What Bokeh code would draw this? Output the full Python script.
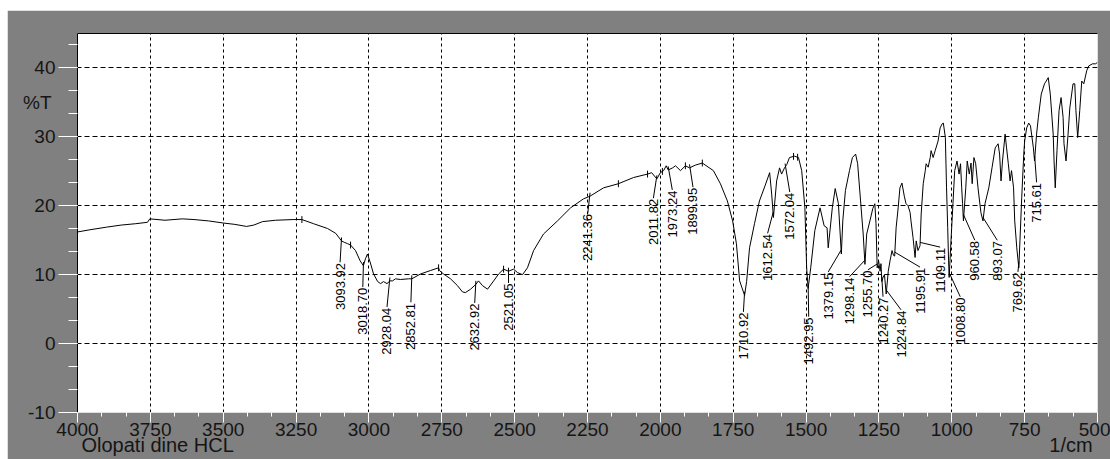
import numpy as np
from bokeh.plotting import figure
from bokeh.models import Range1d, FixedTicker, LinearAxis, ColumnDataSource, Spacer
from bokeh.layouts import column, row
from bokeh.embed import file_html
from bokeh.resources import INLINE
from bokeh.core.properties import value

# ---------------- data ----------------
wavenumber = [
    4000, 3960, 3900, 3850, 3800, 3760, 3752, 3700, 3640, 3600, 3550, 3500, 3460, 3420, 3395,
    3365, 3320, 3260, 3230, 3190, 3142, 3114, 3094, 3085, 3073, 3063, 3046, 3030, 3019, 3012,
    3005, 2995, 2984, 2970, 2960, 2950, 2938, 2928, 2919, 2909, 2892, 2864, 2853, 2823, 2789,
    2761, 2758, 2744, 2720, 2696, 2679, 2669, 2651, 2633, 2624, 2610, 2593, 2572, 2555, 2538,
    2521, 2504, 2490, 2473, 2456, 2435, 2411, 2401, 2353, 2308, 2264, 2241, 2195, 2144, 2092,
    2044, 2030, 2012, 2000, 1989, 1980, 1973, 1958, 1948, 1931, 1914, 1900, 1880, 1856, 1818,
    1794, 1770, 1752, 1739, 1728, 1711, 1704, 1694, 1677, 1660, 1640, 1625, 1618, 1612, 1601,
    1591, 1584, 1574, 1566, 1557, 1540, 1526, 1515, 1504, 1498, 1493, 1484, 1470, 1452, 1438,
    1428, 1424, 1410, 1400, 1389, 1379, 1374, 1365, 1351, 1341, 1330, 1323, 1313, 1304, 1298,
    1292, 1281, 1271, 1264, 1260, 1256, 1251, 1246, 1243, 1240, 1236, 1231, 1225, 1218, 1212,
    1205, 1200, 1196, 1191, 1184, 1178, 1171, 1163, 1157, 1150, 1143, 1140, 1133, 1126, 1122,
    1116, 1109, 1105, 1098, 1091, 1088, 1081, 1074, 1071, 1064, 1057, 1047, 1040, 1033, 1029,
    1022, 1018, 1014, 1011, 1009, 1004, 996, 990, 982, 975, 970, 966, 963, 960, 952,
    947, 940, 934, 930, 924, 918, 910, 900, 893, 886, 873, 862, 851, 841, 836,
    831, 826, 817, 812, 806, 800, 795, 788, 784, 777, 770, 766, 760, 753, 750,
    743, 736, 730, 720, 716, 709, 703, 693, 682, 676, 669, 662, 652, 649, 645,
    639, 632, 625, 618, 615, 608, 601, 595, 584, 578, 574, 568, 561, 554, 547,
    537, 530, 517, 507, 500,
]
transmittance = [
    16.2, 16.5, 16.9, 17.2, 17.4, 17.6, 18.1, 17.9, 18.1, 18.0, 17.8, 17.5, 17.3, 17.0, 17.2,
    17.7, 17.9, 18.0, 18.0, 17.4, 16.7, 16.0, 14.9, 14.7, 14.5, 14.3, 13.5, 12.0, 11.3, 12.3,
    13.0, 11.7, 10.1, 9.0, 8.7, 9.0, 8.7, 9.1, 9.1, 9.4, 9.3, 9.4, 9.4, 10.1, 10.6,
    11.0, 10.6, 10.1, 9.4, 8.4, 7.5, 7.4, 7.9, 8.6, 9.1, 8.4, 7.9, 9.1, 10.1, 10.8,
    10.5, 10.8, 10.3, 10.0, 11.0, 13.5, 15.2, 15.9, 17.8, 19.7, 21.0, 21.4, 22.6, 23.2, 24.1,
    24.6, 24.8, 23.9, 24.8, 25.1, 25.8, 25.2, 25.5, 25.8, 25.1, 25.8, 25.5, 25.9, 26.2, 25.1,
    23.2, 20.7, 17.8, 14.5, 9.1, 7.0, 9.0, 13.9, 17.4, 20.7, 23.0, 24.8, 21.7, 18.3, 23.6,
    25.5, 24.6, 25.5, 26.0, 27.0, 27.2, 27.0, 25.1, 19.7, 11.0, 8.0, 11.0, 16.4, 19.7, 17.1,
    16.8, 13.9, 19.7, 22.5, 20.3, 13.0, 17.8, 22.2, 25.1, 27.0, 27.5, 26.1, 20.7, 15.9, 11.5,
    15.9, 17.8, 19.6, 20.3, 17.4, 11.0, 12.0, 10.5, 11.6, 9.0, 9.6, 10.0, 7.2, 10.5, 12.0,
    13.5, 12.8, 12.7, 16.8, 19.7, 22.6, 23.3, 21.4, 20.3, 20.0, 19.0, 17.8, 15.4, 12.5, 14.9,
    13.5, 14.2, 18.8, 23.2, 25.1, 26.1, 25.6, 27.0, 28.0, 27.0, 28.0, 29.4, 31.3, 31.9, 32.0,
    29.9, 22.6, 16.8, 12.0, 9.6, 13.9, 20.3, 25.1, 26.5, 24.6, 26.1, 22.6, 20.3, 17.8, 22.6,
    26.5, 24.6, 26.2, 23.2, 27.0, 26.1, 22.6, 19.0, 17.8, 20.3, 22.6, 25.5, 28.4, 29.0, 27.5,
    23.6, 26.5, 30.4, 28.4, 26.1, 23.6, 25.1, 22.6, 17.8, 13.9, 11.0, 15.0, 21.2, 27.5, 29.4,
    31.3, 32.0, 31.6, 28.4, 26.5, 30.4, 32.8, 36.2, 37.7, 38.1, 38.6, 36.2, 30.4, 26.5, 22.6,
    28.0, 33.8, 35.7, 32.8, 29.0, 26.5, 30.4, 34.2, 37.7, 37.7, 33.8, 29.9, 33.8, 38.1, 37.7,
    39.6, 40.3, 40.6, 40.6, 40.8,
]

peak_labels = ["3093.92", "3018.70", "2928.04", "2852.81", "2632.92", "2521.05", "2241.36",
               "2011.82", "1973.24", "1899.95", "1710.92", "1612.54", "1572.04", "1492.95",
               "1379.15", "1298.14", "1255.70", "1240.27", "1224.84", "1195.91", "1109.11",
               "1008.80", "960.58", "893.07", "769.62", "715.61"]
# where each rotated label's upper end sits (wavenumber, %T)
label_x = [3099, 3021, 2938, 2856, 2637, 2521, 2249, 2024, 1959, 1888, 1715, 1632, 1556, 1491,
           1424, 1351, 1288, 1236, 1174, 1109, 1040, 971, 921, 844, 773, 709]
label_top = [11.7, 8.1, 5.2, 5.9, 5.8, 8.7, 18.8, 21.0, 22.2, 22.6, 4.5, 15.9, 21.9, 3.8,
             10.3, 9.6, 10.6, 6.7, 4.8, 11.0, 13.9, 6.7, 14.9, 14.9, 10.3, 23.3]
# extra peak-pick marks without a label
mark_wn = [3230, 3063, 2761, 2538, 2144, 2044, 1993, 1914, 1856, 1543, 1529]

x_ticks = list(range(4000, 499, -250))
y_ticks = [-10, 0, 10, 20, 30, 40]
y_title = "%T"
x_title_left = "Olopati dine HCL"
x_title_right = "1/cm"

# ---------------- figure ----------------
FONT = "Liberation Sans"
TXT = "#151515"
GRAY = "#808080"

p = figure(frame_width=1020, frame_height=379,
           min_border_left=70, min_border_right=13, min_border_top=23, min_border_bottom=47,
           x_range=Range1d(4000, 500), y_range=Range1d(-10, 45),
           output_backend="svg", toolbar_location=None,
           background_fill_color="white", border_fill_color=GRAY)
p.outline_line_color = None

# main axes (white ticks outside, dark labels)
p.xaxis.ticker = FixedTicker(ticks=x_ticks, minor_ticks=list(np.arange(500, 4000.01, 250 / 3)))
p.yaxis.ticker = FixedTicker(ticks=y_ticks, minor_ticks=list(np.arange(-10, 45, 10 / 3)))
p.yaxis.major_label_overrides = {t: str(t) for t in y_ticks}
for ax in (p.xaxis, p.yaxis):
    ax.major_tick_line_color = "white"
    ax.minor_tick_line_color = "white"
    ax.major_tick_in = 0
    ax.minor_tick_in = 0
    ax.major_label_text_font = FONT
    ax.major_label_text_font_size = "19px"
    ax.major_label_text_color = TXT

p.xaxis.axis_line_color = None
p.xaxis.major_tick_out = 10
p.xaxis.minor_tick_out = 4
p.xaxis.major_label_standoff = 0

p.yaxis.axis_line_color = "black"
p.yaxis.major_tick_out = 19
p.yaxis.minor_tick_out = 9
p.yaxis.major_label_standoff = 3

# "%T" on an outer left axis, pulled back into the tick-label column
t_axis = LinearAxis(ticker=FixedTicker(ticks=[35]), major_label_overrides={35: y_title},
                    axis_line_color=None, major_tick_line_color=None, minor_tick_line_color=None,
                    major_tick_out=0, major_tick_in=0, major_label_standoff=-26,
                    major_label_text_font=FONT, major_label_text_font_size="19px",
                    major_label_text_color=TXT)
p.add_layout(t_axis, "left")

# bottom titles on an outer bottom axis
xt_pos = [3725, 591]
xt_axis = LinearAxis(ticker=FixedTicker(ticks=xt_pos),
                     major_label_overrides={xt_pos[0]: x_title_left, xt_pos[1]: x_title_right},
                     axis_line_color=None, major_tick_line_color=None, minor_tick_line_color=None,
                     major_tick_out=0, major_tick_in=0, major_label_standoff=-5,
                     major_label_text_font=FONT, major_label_text_font_size="20px",
                     major_label_text_color=TXT)
p.add_layout(xt_axis, "below")

# top border
top_axis = LinearAxis(ticker=FixedTicker(ticks=[]), axis_line_color="black",
                      major_tick_line_color=None, minor_tick_line_color=None)
p.add_layout(top_axis, "above")

p.xgrid.ticker = FixedTicker(ticks=x_ticks[1:-1])
p.xgrid.grid_line_color = "black"
p.xgrid.grid_line_dash = "3 3"
p.ygrid.ticker = FixedTicker(ticks=y_ticks)
p.ygrid.grid_line_color = "black"
p.ygrid.grid_line_dash = "5 3"

# spectrum
p.line(wavenumber, transmittance, line_color="black", line_width=1)

# peak labels and leaders
wn_asc = np.array(wavenumber[::-1], dtype=float)
t_asc = np.array(transmittance[::-1], dtype=float)
peak_wn = [float(s) for s in peak_labels]
peak_t = list(np.interp(peak_wn, wn_asc, t_asc))

lead_xs = [[lx, pw] for lx, pw in zip(label_x, peak_wn)]
lead_ys = [[lt + 0.1, pt + 0.5] for lt, pt in zip(label_top, peak_t)]
p.multi_line(lead_xs, lead_ys, line_color="black", line_width=1)

src = ColumnDataSource(dict(x=label_x, y=label_top, text=peak_labels))
p.text(x="x", y="y", text="text", source=src, angle=np.pi / 2,
       text_align="right", text_baseline="middle",
       text_font=value(FONT), text_font_size="13px", text_color="black")

mark_t = list(np.interp(mark_wn, wn_asc, t_asc))
p.segment(x0=mark_wn, y0=[t - 0.5 for t in mark_t], x1=mark_wn, y1=[t + 0.5 for t in mark_t],
          line_color="black", line_width=1)

layout = column(Spacer(height=10, width=1110),
                row(Spacer(width=7, height=449), p, spacing=0), spacing=0)

open("out.html", "w").write(file_html(layout, INLINE))
